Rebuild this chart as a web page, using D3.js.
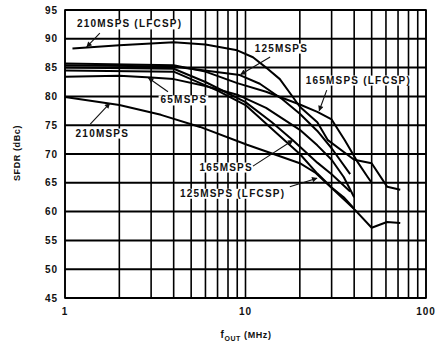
<!DOCTYPE html>
<html>
<head>
<meta charset="utf-8">
<script src="https://cdn.jsdelivr.net/npm/d3@7"></script>
<style>
  body { margin: 0; background: #fff; }
  text { font-family: "Liberation Sans", Arial, sans-serif; font-weight: bold; fill: #111; }
  .tick-label { font-size: 10px; letter-spacing: 1px; }
  .curve-label { font-size: 10px; letter-spacing: 1.2px; }
  .axis-title { font-size: 9px; letter-spacing: 0.6px; }
</style>
</head>
<body>
<div id="chart"></div>
<script>

// y ticks (dBc) and x grid (MHz)
var yTicks = [45, 50, 55, 60, 65, 70, 75, 80, 85, 90, 95];
var xGrid = [1, 2, 3, 4, 5, 6, 7, 8, 9, 10, 20, 30, 40, 50, 60, 70, 80, 90, 100];
var xTickLabels = [1, 10, 100];

// curves: [fOUT MHz, SFDR dBc]
var sfdr210Lfcsp = [[1.1, 88.3], [2, 88.9], [4, 89.4], [6, 89.0], [9, 88.0], [11, 86.8], [13, 85.0],
  [15.5, 83.0], [18, 80.2], [20, 78.2], [25, 75.5], [28.6, 72.4], [40, 69.0], [50, 68.4], [61, 64.3], [72, 63.8]];
var sfdr165Lfcsp = [[1, 85.7], [4, 85.4], [6, 84.3], [9, 82.3], [13, 80.8], [20, 78.6], [25, 77.3],
  [30, 76.0], [35.5, 72.4], [42, 68.5], [47.5, 66.0], [50, 65.0]];
var sfdr125 = [[1, 85.4], [4, 85.2], [9.3, 83.7], [12, 82.2], [16, 79.5], [20, 77.0], [25, 74.0],
  [30, 71.0], [38, 66.5]];
var sfdr65 = [[1, 83.4], [2, 83.6], [3, 83.3], [4, 83.0], [6, 81.8], [9, 80.3], [13, 78.0], [20, 74.2],
  [25, 71.5], [30, 69.0], [35, 66.0], [40, 62.5]];
var sfdr165 = [[1, 85.0], [4, 84.8], [6, 82.5], [10, 79.0], [14, 75.5], [18.3, 72.4], [25, 68.5],
  [30, 66.5], [38, 63.5]];
var sfdr125Lfcsp = [[1, 84.5], [4, 84.3], [7, 81.0], [10, 78.5], [15, 73.5], [20, 70.0], [25, 66.6],
  [30, 64.2], [35, 62.5], [40, 60.5]];
var sfdr210 = [[1, 79.9], [2, 78.5], [3.4, 76.8], [5.6, 74.7], [10.2, 71.6], [20, 68.4], [24.5, 66.7],
  [40.4, 60.3], [50, 57.2], [60.8, 58.2], [72, 58.0]];

var curves = [sfdr210Lfcsp, sfdr165Lfcsp, sfdr125, sfdr65, sfdr165, sfdr125Lfcsp, sfdr210];

// labels: text, centre [MHz, dBc], arrow from, arrow to
var labelNames = ["210MSPS (LFCSP)", "125MSPS", "165MSPS (LFCSP)", "65MSPS", "210MSPS", "165MSPS", "125MSPS (LFCSP)"];
var labelPos = [[2.28, 92.6], [15.8, 88.4], [42.2, 82.85], [4.56, 79.4], [1.61, 73.65], [7.81, 67.75], [8.48, 63.2]];
var arrowFrom = [[1.56, 91.0], [13.7, 86.85], [28.2, 81.1], [3.72, 80.8], [1.38, 75.2], [11.0, 67.9], [17.6, 64.3]];
var arrowTo = [[1.32, 88.6], [9.4, 83.8], [25.6, 77.5], [2.9, 83.2], [1.77, 78.8], [18.3, 72.4], [24.9, 65.8]];

var width = 436, height = 349;
var margin = { top: 10, right: 10, bottom: 51, left: 65 };

var x = d3.scaleLog().domain([1, 100]).range([margin.left, width - margin.right]);
var y = d3.scaleLinear().domain([45, 95]).range([height - margin.bottom, margin.top]);

var svg = d3.select("#chart")
    .append("svg")
    .attr("width", width)
    .attr("height", height)

var defs = svg.append("defs");
defs.append("marker")
    .attr("id", "head")
    .attr("viewBox", "0 0 10 10")
    .attr("refX", 9)
    .attr("refY", 5)
    .attr("markerWidth", 7)
    .attr("markerHeight", 5)
    .attr("orient", "auto")
    .append("path")
    .attr("d", "M0,0 L10,5 L0,10 z")
    .style("fill", "#111");

// grid
svg.append("g")
    .selectAll(".hgrid")
    .data(yTicks)
    .enter()
    .append("line")
    .attr("class", "hgrid")
    .attr("x1", x(1))
    .attr("x2", x(100))
    .attr("y1", function (d) { return y(d); })
    .attr("y2", function (d) { return y(d); })
    .style("stroke", "#000")
    .style("stroke-width", 2)

svg.append("g")
    .selectAll(".vgrid")
    .data(xGrid)
    .enter()
    .append("line")
    .attr("class", "vgrid")
    .attr("x1", function (d) { return x(d); })
    .attr("x2", function (d) { return x(d); })
    .attr("y1", y(45))
    .attr("y2", y(95))
    .style("stroke", "#000")
    .style("stroke-width", 1.6)

// tick labels
svg.append("g")
    .selectAll(".ylab")
    .data(yTicks)
    .enter()
    .append("text")
    .attr("class", "tick-label")
    .text(function (d) { return d; })
    .attr("x", x(1) - 7)
    .attr("y", function (d) { return y(d) + 3.5; })
    .style("text-anchor", "end")

svg.append("g")
    .selectAll(".xlab")
    .data(xTickLabels)
    .enter()
    .append("text")
    .attr("class", "tick-label")
    .text(function (d) { return d; })
    .attr("x", function (d) { return x(d); })
    .attr("y", y(45) + 17)
    .style("text-anchor", "middle")

// axis titles
var xt = svg.append("text")
    .attr("class", "axis-title")
    .attr("x", 246)
    .attr("y", 338)
    .style("text-anchor", "middle")
xt.append("tspan").text("f").style("font-size", "10px");
xt.append("tspan").text("OUT").attr("dy", 2.5).style("font-size", "7px");
xt.append("tspan").text(" (MHz)").attr("dy", -2.5);

svg.append("text")
    .attr("class", "axis-title")
    .text("SFDR (dBc)")
    .attr("transform", "translate(20," + 153 + ") rotate(-90)")
    .style("text-anchor", "middle")

// curves
var line = d3.line()
    .x(function (d) { return x(d[0]); })
    .y(function (d) { return y(d[1]); });

svg.append("g")
    .selectAll(".curve")
    .data(curves)
    .enter()
    .append("path")
    .attr("class", "curve")
    .attr("d", line)
    .style("fill", "none")
    .style("stroke", "#000")
    .style("stroke-width", 2)
    .style("stroke-linejoin", "round")

// labels with white boxes
var labels = svg.append("g")
    .selectAll(".lab")
    .data(labelNames)
    .enter()
    .append("g")
    .attr("class", "lab")

labels.append("text")
    .attr("class", "curve-label")
    .text(function (d) { return d; })
    .attr("x", function (d, i) { return x(labelPos[i][0]); })
    .attr("y", function (d, i) { return y(labelPos[i][1]) + 3.6; })
    .style("text-anchor", "middle")

labels.each(function () {
    var g = d3.select(this);
    var b = g.select("text").node().getBBox();
    g.insert("rect", "text")
        .attr("x", b.x - 2)
        .attr("y", b.y + 1)
        .attr("width", b.width + 3)
        .attr("height", b.height - 1)
        .style("fill", "#fff");
});

svg.append("g")
    .selectAll(".arrow")
    .data(arrowFrom)
    .enter()
    .append("line")
    .attr("class", "arrow")
    .attr("x1", function (d) { return x(d[0]); })
    .attr("y1", function (d) { return y(d[1]); })
    .attr("x2", function (d, i) { return x(arrowTo[i][0]); })
    .attr("y2", function (d, i) { return y(arrowTo[i][1]); })
    .style("stroke", "#111")
    .style("stroke-width", 1.1)
    .attr("marker-end", "url(#head)")

// plot border
svg.append("rect")
    .attr("x", x(1))
    .attr("y", y(95))
    .attr("width", x(100) - x(1))
    .attr("height", y(45) - y(95))
    .style("fill", "none")
    .style("stroke", "#000")
    .style("stroke-width", 1.6)

</script>
</body>
</html>
